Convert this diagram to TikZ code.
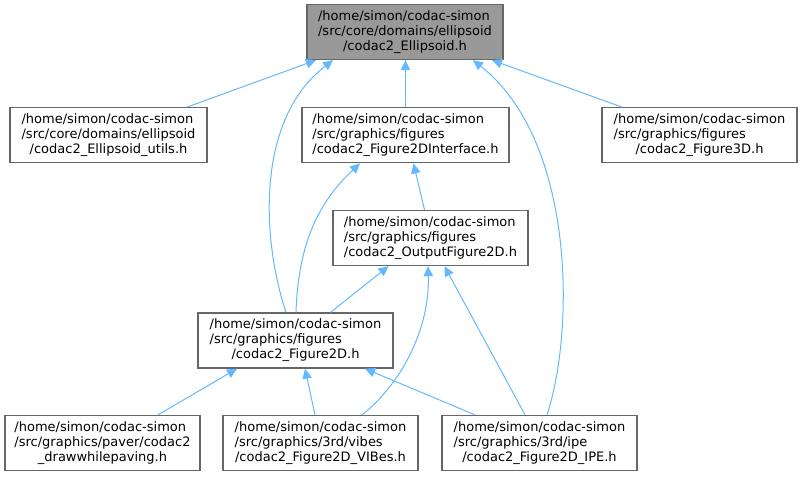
\documentclass[tikz,border=0pt]{standalone}
\usepackage{fontspec}
\setmainfont{DejaVu Sans}
\usetikzlibrary{arrows.meta,calc}
\definecolor{edgec}{HTML}{63B8FF}
\definecolor{boxc}{HTML}{666666}
\definecolor{topfill}{HTML}{999999}
\newcommand{\flbl}[3]{\def\arraystretch{1}\begin{tabular}{@{}l@{}}#1\\#2\\\multicolumn{1}{@{}c@{}}{#3}\end{tabular}}
\begin{document}
\begin{tikzpicture}[x=0.75pt,y=-0.75pt,
  filebox/.style={draw=boxc, line width=1pt, fill=white, minimum width=146.25pt,
    minimum height=41.25pt, inner sep=0pt, font=\fontsize{9.75}{11.25}\selectfont},
  edge/.style={draw=edgec, line width=0.75pt, -{Triangle[length=7.5pt,width=7pt]}}]
\useasboundingbox (0,0) rectangle (803,476);

\node[filebox, fill=topfill, minimum width=147pt] (E) at (405,32)
  {\flbl{/home/simon/codac-simon}{/src/core/domains/ellipsoid}{/codac2\_Ellipsoid.h}};
\node[filebox, minimum width=147.75pt] (U) at (108.5,135.25)
  {\flbl{/home/simon/codac-simon}{/src/core/domains/ellipsoid}{/codac2\_Ellipsoid\_utils.h}};
\node[filebox, minimum width=155.25pt] (I) at (405.5,135.25)
  {\flbl{/home/simon/codac-simon}{/src/graphics/figures}{/codac2\_Figure2DInterface.h}};
\node[filebox] (F3) at (699.5,135.25)
  {\flbl{/home/simon/codac-simon}{/src/graphics/figures}{/codac2\_Figure3D.h}};
\node[filebox] (O) at (430.5,238)
  {\flbl{/home/simon/codac-simon}{/src/graphics/figures}{/codac2\_OutputFigure2D.h}};
\node[filebox] (F) at (295.5,340.5)
  {\flbl{/home/simon/codac-simon}{/src/graphics/figures}{/codac2\_Figure2D.h}};
\node[filebox] (D) at (102.5,443)
  {\flbl{/home/simon/codac-simon}{/src/graphics/paver/codac2}{\_drawwhilepaving.h}};
\node[filebox] (V) at (320.5,443)
  {\flbl{/home/simon/codac-simon}{/src/graphics/3rd/vibes}{/codac2\_Figure2D\_VIBes.h}};
\node[filebox] (P) at (539.5,443)
  {\flbl{/home/simon/codac-simon}{/src/graphics/3rd/ipe}{/codac2\_Figure2D\_IPE.h}};

% edges to Ellipsoid
\draw[edge] ($(U.north)+(78.5,0)$) -- ($(E.south)+(-89,0)$);
\draw[edge] ($(F.north)+(-9.5,0)$) .. controls (262,240) and (255,120) .. ($(E.south)+(-72,0)$);
\draw[edge] (I.north) -- ($(E.south)+(0.5,0)$);
\draw[edge] ($(F3.north)+(-77.5,0)$) -- ($(E.south)+(87,0)$);
\draw[edge] ($(P.north)+(7.5,0)$) .. controls (575,330) and (575,140) .. ($(E.south)+(68,0)$);
% edges to Figure2DInterface
\draw[edge] ($(F.north)+(0.5,0)$) .. controls (298,250) and (315,205) .. ($(I.south)+(-45.5,0)$);
\draw[edge] ($(O.north)+(-6,0)$) -- ($(I.south)+(8,0)$);
% edges to OutputFigure2D
\draw[edge] ($(F.north)+(35,0)$) -- ($(O.south)+(-42,0)$);
\draw[edge] ($(V.north)+(41.5,0)$) .. controls (400,385) and (430,330) .. ($(O.south)+(-2.5,0)$);
\draw[edge] ($(P.north)+(-14.5,0)$) -- ($(O.south)+(14,0)$);
% edges to Figure2D
\draw[edge] ($(D.north)+(55.5,0)$) -- ($(F.south)+(-58.5,0)$);
\draw[edge] ($(V.north)+(-5.5,0)$) -- ($(F.south)+(9.5,0)$);
\draw[edge] ($(P.north)+(-64.5,0)$) -- ($(F.south)+(69.5,0)$);
\end{tikzpicture}
\end{document}
